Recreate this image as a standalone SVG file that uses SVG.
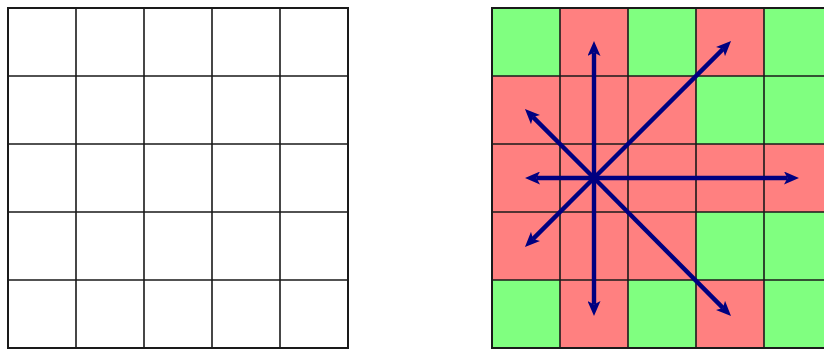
<svg xmlns="http://www.w3.org/2000/svg" width="824" height="349" viewBox="0 0 824 349">
  <style>
    .grid { fill: none; stroke: #1a1a1a; stroke-width: 1.6; }
    .outer { fill: none; stroke: #1a1a1a; stroke-width: 2; }
    .g { fill: #80ff80; }
    .r { fill: #ff8080; }
    .arrow { stroke: #000080; stroke-width: 4.4; fill: none; marker-end: url(#head); }
  </style>
  <defs>
    <marker id="head" markerUnits="userSpaceOnUse" viewBox="0 0 15 13" markerWidth="15" markerHeight="13" refX="3.5" refY="6.5" orient="auto">
      <path d="M0,0 L15,6.5 L0,13 L3.5,6.5 Z" fill="#000080"/>
    </marker>
  </defs>
  <rect width="824" height="349" fill="#ffffff"/>

  <g id="left-grid">
    <path class="grid" d="M76,8 V348 M144,8 V348 M212,8 V348 M280,8 V348 M8,76 H348 M8,144 H348 M8,212 H348 M8,280 H348"/>
    <rect class="outer" x="8" y="8" width="340" height="340"/>
  </g>

  <g id="right-grid">
    <g id="cells">
      <rect class="g" x="492" y="8" width="68" height="68"/>
      <rect class="r" x="560" y="8" width="68" height="68"/>
      <rect class="g" x="628" y="8" width="68" height="68"/>
      <rect class="r" x="696" y="8" width="68" height="68"/>
      <rect class="g" x="764" y="8" width="68" height="68"/>

      <rect class="r" x="492" y="76" width="68" height="68"/>
      <rect class="r" x="560" y="76" width="68" height="68"/>
      <rect class="r" x="628" y="76" width="68" height="68"/>
      <rect class="g" x="696" y="76" width="68" height="68"/>
      <rect class="g" x="764" y="76" width="68" height="68"/>

      <rect class="r" x="492" y="144" width="68" height="68"/>
      <rect class="r" x="560" y="144" width="68" height="68"/>
      <rect class="r" x="628" y="144" width="68" height="68"/>
      <rect class="r" x="696" y="144" width="68" height="68"/>
      <rect class="r" x="764" y="144" width="68" height="68"/>

      <rect class="r" x="492" y="212" width="68" height="68"/>
      <rect class="r" x="560" y="212" width="68" height="68"/>
      <rect class="r" x="628" y="212" width="68" height="68"/>
      <rect class="g" x="696" y="212" width="68" height="68"/>
      <rect class="g" x="764" y="212" width="68" height="68"/>

      <rect class="g" x="492" y="280" width="68" height="68"/>
      <rect class="r" x="560" y="280" width="68" height="68"/>
      <rect class="g" x="628" y="280" width="68" height="68"/>
      <rect class="r" x="696" y="280" width="68" height="68"/>
      <rect class="g" x="764" y="280" width="68" height="68"/>
    </g>
    <path class="grid" d="M560,8 V348 M628,8 V348 M696,8 V348 M764,8 V348 M492,76 H832 M492,144 H832 M492,212 H832 M492,280 H832"/>
    <rect class="outer" x="492" y="8" width="340" height="340"/>
  </g>

  <g id="connectors">
    <line class="arrow" x1="594" y1="178" x2="594" y2="52.5"/>
    <line class="arrow" x1="594" y1="178" x2="594" y2="304.5"/>
    <line class="arrow" x1="594" y1="178" x2="536.5" y2="178"/>
    <line class="arrow" x1="594" y1="178" x2="787.5" y2="178"/>
    <line class="arrow" x1="594" y1="178" x2="533.1" y2="117.1"/>
    <line class="arrow" x1="594" y1="178" x2="533.1" y2="238.9"/>
    <line class="arrow" x1="594" y1="178" x2="722.9" y2="49.1"/>
    <line class="arrow" x1="594" y1="178" x2="722.9" y2="307.9"/>
  </g>
</svg>
